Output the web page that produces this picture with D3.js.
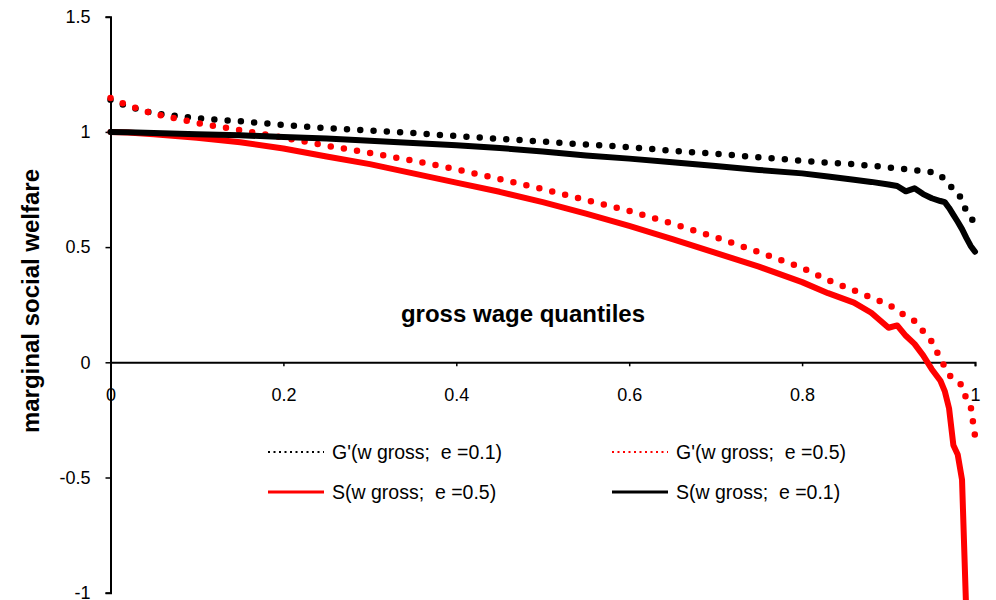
<!DOCTYPE html>
<html>
<head>
<meta charset="utf-8">
<script src="https://cdn.jsdelivr.net/npm/d3@7"></script>
<style>
  html, body { margin: 0; padding: 0; background: #fff; }
  text { font-family: "Liberation Sans", Arial, sans-serif; }
</style>
</head>
<body>
<svg id="chart" width="996" height="600"></svg>
<script>
// ---- data ----
const quantiles = [0, 0.02, 0.05, 0.1, 0.15, 0.2, 0.25, 0.3, 0.35, 0.4, 0.45, 0.5, 0.55, 0.6, 0.65, 0.7, 0.75, 0.8,
  0.83, 0.86, 0.88, 0.9, 0.91, 0.92, 0.93, 0.94, 0.95, 0.96, 0.965, 0.97, 0.975, 0.98, 0.985, 0.99, 0.995, 1.0];

const gPrime01 = [1.14, 1.11, 1.08, 1.059, 1.046, 1.03, 1.016, 1.006, 0.995, 0.982, 0.97, 0.958, 0.945, 0.934, 0.918, 0.905, 0.89, 0.875,
  0.866, 0.86, 0.853, 0.846, 0.842, 0.838, 0.834, 0.83, 0.825, 0.813, 0.79, 0.767, 0.755, 0.742, 0.70, 0.655, 0.63, 0.60];

const gPrime05 = [1.147, 1.115, 1.078, 1.039, 1.007, 0.975, 0.94, 0.909, 0.875, 0.838, 0.795, 0.752, 0.704, 0.657, 0.602, 0.543, 0.478, 0.41,
  0.357, 0.312, 0.281, 0.251, 0.225, 0.20, 0.18, 0.135, 0.09, 0.015, -0.02, -0.055, -0.07, -0.085, -0.10, -0.16, -0.19, -0.32];

const s05 = [1.0, 0.997, 0.99, 0.975, 0.955, 0.928, 0.893, 0.86, 0.82, 0.78, 0.74, 0.695, 0.645, 0.592, 0.535, 0.475, 0.415, 0.348,
  0.30, 0.259, 0.215, 0.15, 0.16, 0.115, 0.08, 0.03, -0.03, -0.08, -0.125, -0.20, -0.36, -0.40, -0.51, -1.1, -1.6, -2.2];

const s01 = [1.0, 0.998, 0.995, 0.99, 0.985, 0.978, 0.971, 0.962, 0.952, 0.942, 0.93, 0.915, 0.898, 0.884, 0.868, 0.852, 0.835, 0.82,
  0.806, 0.792, 0.783, 0.772, 0.765, 0.742, 0.755, 0.73, 0.712, 0.70, 0.695, 0.67, 0.64, 0.61, 0.578, 0.54, 0.505, 0.48];

const xTicks = [0, 0.2, 0.4, 0.6, 0.8, 1];
const yTicks = [-1, -0.5, 0, 0.5, 1, 1.5];

const seriesNames = ["G'(w gross;  e =0.1)", "G'(w gross;  e =0.5)", "S(w gross;  e =0.5)", "S(w gross;  e =0.1)"];
const seriesColors = ["#000000", "#ff0000", "#ff0000", "#000000"];
const seriesDotted = [true, true, false, false];
const seriesValues = [gPrime01, gPrime05, s05, s01];

// ---- layout ----
const svg = d3.select("#chart");
const x = d3.scaleLinear().domain([0, 1]).range([110.5, 975]);
const y = d3.scaleLinear().domain([-1, 1.5]).range([592.7, 16.7]);
const fmt = d => String(d);

svg.append("rect").attr("width", 996).attr("height", 600).attr("fill", "#fff");

// y axis
const yAxis = svg.append("g").attr("transform", `translate(${x(0)},0)`)
  .call(d3.axisLeft(y).tickValues(yTicks).tickSize(5).tickPadding(15).tickFormat(fmt));
yAxis.select(".domain").attr("stroke", "#000").attr("stroke-width", 2);
yAxis.selectAll(".tick line").attr("stroke", "#000").attr("stroke-width", 1.5);
yAxis.selectAll(".tick text").attr("font-size", 18).attr("fill", "#000")
  .attr("font-family", "Liberation Sans, Arial, sans-serif");

// x axis at y=0
const xAxis = svg.append("g").attr("transform", `translate(0,${y(0)})`)
  .call(d3.axisBottom(x).tickValues(xTicks).tickSize(4).tickPadding(22).tickFormat(fmt));
xAxis.select(".domain").attr("stroke", "#000").attr("stroke-width", 2);
xAxis.selectAll(".tick line").attr("stroke", "#000").attr("stroke-width", 1.5);
xAxis.selectAll(".tick text").attr("font-size", 18).attr("fill", "#000")
  .attr("font-family", "Liberation Sans, Arial, sans-serif");

// axis titles
svg.append("text")
  .attr("x", 523).attr("y", 322)
  .attr("text-anchor", "middle").attr("font-size", 24).attr("font-weight", "bold")
  .text("gross wage quantiles");

svg.append("text")
  .attr("transform", "translate(39,301) rotate(-90)")
  .attr("text-anchor", "middle").attr("font-size", 24).attr("font-weight", "bold")
  .text("marginal social welfare");

// series
const line = d3.line().x(d => x(d[0])).y(d => y(d[1]));
seriesValues.forEach((vals, i) => {
  const pts = quantiles.map((q, k) => [q, vals[k]]);
  const p = svg.append("path").datum(pts)
    .attr("fill", "none")
    .attr("stroke", seriesColors[i])
    .attr("stroke-linejoin", "round")
    .attr("d", line);
  if (seriesDotted[i]) {
    p.attr("stroke-width", 6.5).attr("stroke-linecap", "round").attr("stroke-dasharray", "0,13.3");
  } else {
    p.attr("stroke-width", 6).attr("stroke-linecap", "round");
  }
});

// legend
const legendPos = [[268, 452], [612, 452], [268, 492], [612, 492]];
seriesNames.forEach((name, i) => {
  const [lx, ly] = legendPos[i];
  const g = svg.append("g");
  const l = g.append("line").attr("x1", lx).attr("x2", lx + 56).attr("y1", ly).attr("y2", ly)
    .attr("stroke", seriesColors[i]);
  if (seriesDotted[i]) l.attr("stroke-width", 2).attr("stroke-dasharray", "2,3.5");
  else l.attr("stroke-width", 3);
  g.append("text").attr("x", lx + 64).attr("y", ly).attr("dy", "0.35em")
    .attr("font-size", 19.5).attr("fill", "#000")
    .style("white-space", "pre")
    .text(name);
});
</script>
</body>
</html>
